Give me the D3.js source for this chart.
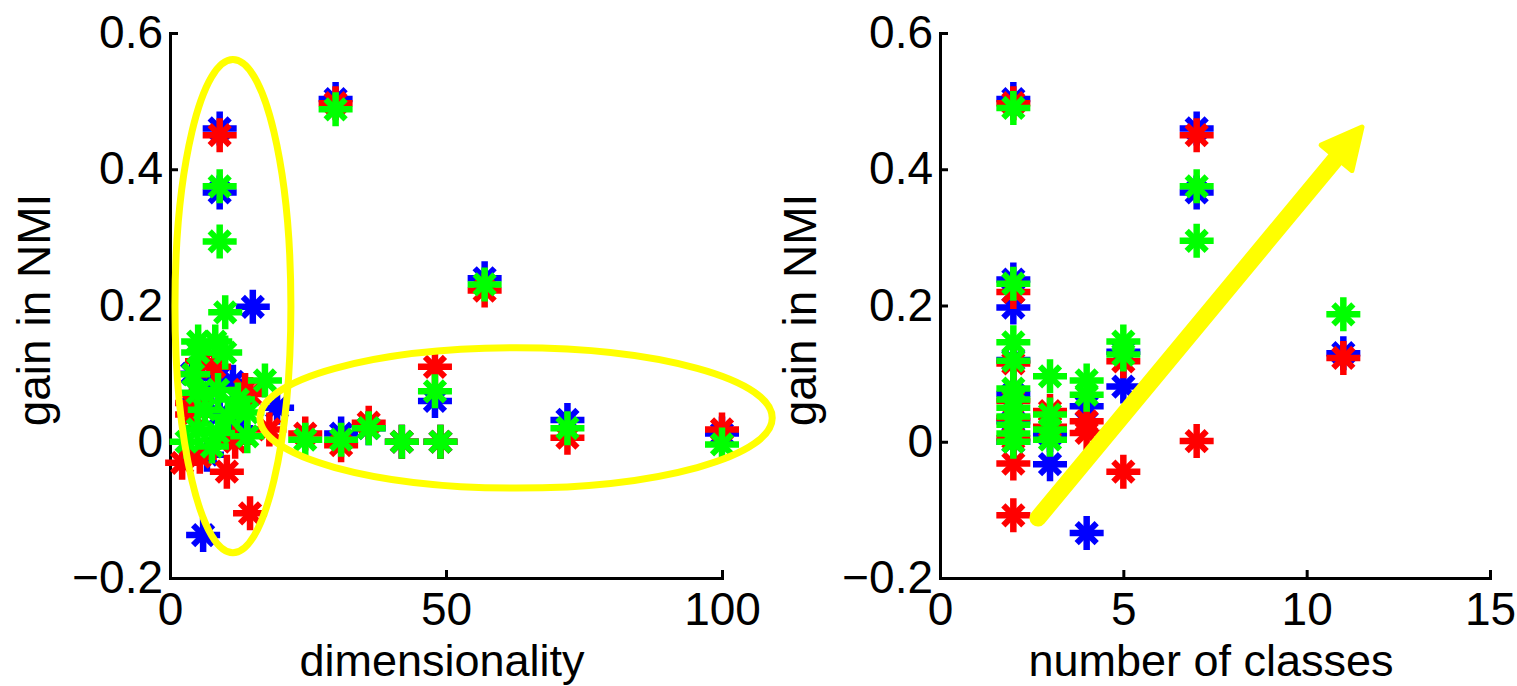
<!DOCTYPE html>
<html>
<head>
<meta charset="utf-8">
<script src="https://cdn.jsdelivr.net/npm/d3@7"></script>
<style>
  body { margin: 0; background: #fff; }
</style>
</head>
<body>
<div id="chart"></div>
<script>
// values (gain in NMI per dataset, three colours)
const yTicks = [-0.2, 0, 0.2, 0.4, 0.6];
const dimTicks = [0, 50, 100];
const classTicks = [0, 5, 10, 15];

// left panel: [dimensionality, gain]
const dimBlue = [
  [30, 0.503], [9, 0.460], [9, 0.366], [57, 0.240], [15, 0.198],
  [48, 0.060], [19.4, 0.050], [11.4, 0.088], [8.7, 0.094], [72, 0.032],
  [31, 0.012], [36, 0.020], [42, 0.0], [49, 0.0], [100, 0.012],
  [6, -0.137], [6.7, -0.019], [5, 0.060], [9, 0.040], [12, 0.020], [4, 0.100]
];
const dimRed = [
  [30, 0.497], [9, 0.450], [57, 0.222], [48, 0.110], [72, 0.006],
  [100, 0.018], [36, 0.028], [24.5, 0.012], [31, -0.005], [42, 0.0], [49, 0.0],
  [14.5, -0.105], [10.3, -0.044], [2.2, -0.031], [5.4, -0.022], [11.8, 0.0],
  [4, 0.040], [4, 0.057], [13.6, 0.076], [14.5, 0.070], [5.8, 0.118], [18, 0.018], [8, 0.110]
];
const dimGreen = [
  [30, 0.488], [9, 0.375], [9, 0.294], [57, 0.231], [10, 0.190],
  [48, 0.074], [72, 0.020], [100, -0.004], [24.5, 0.003], [31, 0.003],
  [36, 0.020], [42, 0.0], [49, 0.0], [17.2, 0.090],
  [5.1, 0.147], [8.2, 0.147], [10, 0.131], [5.1, 0.131], [4.2, 0.099],
  [5, 0.072], [8.7, 0.076], [12.3, 0.062], [6.3, 0.047], [10.5, 0.037],
  [14, 0.043], [5, 0.018], [8.7, 0.013], [14, 0.008], [7.6, -0.007], [3, 0.0]
];

// right panel: [number of classes, gain]
const classBlue = [
  [2, 0.503], [2, 0.238], [2, 0.197], [2, 0.120], [2, 0.070], [2, 0.030], [2, 0.0],
  [3, -0.033], [3, 0.010], [4, 0.052], [4, -0.134], [5, 0.132], [5, 0.081],
  [7, 0.460], [7, 0.366], [11, 0.130]
];
const classRed = [
  [2, 0.497], [2, 0.220], [2, 0.115], [2, 0.060], [2, 0.035], [2, 0.005],
  [2, -0.032], [2, -0.108], [3, 0.045], [3, 0.022], [4, 0.030], [4, 0.013],
  [5, 0.118], [5, -0.044], [7, 0.450], [7, 0.001], [11, 0.123]
];
const classGreen = [
  [2, 0.490], [2, 0.232], [2, 0.146], [2, 0.119], [2, 0.078], [2, 0.062],
  [2, 0.050], [2, 0.037], [2, 0.025], [2, 0.012], [2, 0.0],
  [3, 0.096], [3, 0.040], [3, 0.018], [3, 0.003], [4, 0.090], [4, 0.069],
  [5, 0.147], [5, 0.128], [7, 0.375], [7, 0.295], [11, 0.187]
];

// yellow annotations, in data units
const lowDimEllipse = { cx: 11.4, cy: 0.199, rx: 10.5, ry: 0.362 };
const highDimEllipse = { cx: 62.7, cy: 0.035, rx: 46.4, ry: 0.103 };
const trendArrow = [[2.67, -0.112], [11.51, 0.462]];

const width = 1517, height = 686;
const font = '"Liberation Sans", Arial, sans-serif';

const svg = d3.select('#chart').append('svg')
  .attr('width', width).attr('height', height)
  .style('display', 'block')
  .style('background', '#fff');

const y = d3.scaleLinear().domain([-0.2, 0.6]).range([578, 33]);
const xDim = d3.scaleLinear().domain([0, 100]).range([170, 722]);
const xCls = d3.scaleLinear().domain([0, 15]).range([940, 1490]);

// matlab style '*' marker: thick plus, shorter chunky diagonals
function plusArms(r) {
  return `M${-r},0H${r}M0,${-r}V${r}`;
}
function diagArms(d) {
  return `M${-d},${-d}L${d},${d}M${-d},${d}L${d},${-d}`;
}

function drawPoints(g, x, data, colour) {
  const pts = g.append('g').selectAll('g')
    .data(data)
    .join('g')
    .attr('transform', d => `translate(${x(d[0])},${y(d[1])})`)
    .attr('fill', 'none')
    .attr('stroke', colour);
  pts.append('path').attr('d', plusArms(17)).attr('stroke-width', 6.5);
  pts.append('path').attr('d', diagArms(10)).attr('stroke-width', 6);
}

function drawPanel(x, xTicks, blue, red, green, xLabel, yLabelX) {
  const g = svg.append('g');

  const yAxis = g.append('g')
    .attr('transform', `translate(${x.range()[0]},0)`)
    .call(d3.axisLeft(y).tickValues(yTicks).tickSizeInner(-8).tickSizeOuter(0)
      .tickPadding(7).tickFormat(d3.format('')));

  const xAxis = g.append('g')
    .attr('transform', `translate(0,${y.range()[0]})`)
    .call(d3.axisBottom(x).tickValues(xTicks).tickSizeInner(-8).tickSizeOuter(0)
      .tickPadding(14).tickFormat(d3.format('')));

  [yAxis, xAxis].forEach(a => {
    a.attr('font-size', 46).attr('font-family', font);
    a.select('.domain').attr('stroke', '#000').attr('stroke-width', 3).attr('stroke-linecap', 'square');
    a.selectAll('.tick line').attr('stroke', '#000').attr('stroke-width', 3);
    a.selectAll('.tick text').attr('fill', '#000');
  });

  drawPoints(g, x, blue, '#0000ff');
  drawPoints(g, x, red, '#ff0000');
  drawPoints(g, x, green, '#00ff00');

  const mid = (x.range()[0] + x.range()[1]) / 2 - 4;
  g.append('text')
    .attr('x', mid).attr('y', 676)
    .attr('text-anchor', 'middle')
    .attr('font-family', font).attr('font-size', 45)
    .text(xLabel);

  g.append('text')
    .attr('transform', `translate(${yLabelX},310) rotate(-90)`)
    .attr('text-anchor', 'middle')
    .attr('font-family', font).attr('font-size', 46)
    .text('gain in NMI');

  return g;
}

const left = drawPanel(xDim, dimTicks, dimBlue, dimRed, dimGreen, 'dimensionality', 50);
const right = drawPanel(xCls, classTicks, classBlue, classRed, classGreen, 'number of classes', 816);

// ellipses on the left panel
[lowDimEllipse, highDimEllipse].forEach(e => {
  left.append('ellipse')
    .attr('cx', xDim(e.cx))
    .attr('cy', y(e.cy))
    .attr('rx', xDim(e.cx + e.rx) - xDim(e.cx))
    .attr('ry', y(e.cy - e.ry) - y(e.cy))
    .attr('fill', 'none')
    .attr('stroke', '#ffff00')
    .attr('stroke-width', 7);
});

// arrow on the right panel
const p0 = [xCls(trendArrow[0][0]), y(trendArrow[0][1])];
const p1 = [xCls(trendArrow[1][0]), y(trendArrow[1][1])];
const len = Math.hypot(p1[0] - p0[0], p1[1] - p0[1]);
const u = [(p1[0] - p0[0]) / len, (p1[1] - p0[1]) / len];
const n = [-u[1], u[0]];
const headLen = 40, headHalf = 20;
const base = [p1[0] - u[0] * headLen, p1[1] - u[1] * headLen];

right.append('line')
  .attr('x1', p0[0]).attr('y1', p0[1])
  .attr('x2', base[0] + u[0] * 5).attr('y2', base[1] + u[1] * 5)
  .attr('stroke', '#ffff00')
  .attr('stroke-width', 17)
  .attr('stroke-linecap', 'round');

right.append('path')
  .attr('d', d3.line()([
    p1,
    [base[0] + n[0] * headHalf, base[1] + n[1] * headHalf],
    [base[0] - n[0] * headHalf, base[1] - n[1] * headHalf]
  ]) + 'Z')
  .attr('fill', '#ffff00')
  .attr('stroke', '#ffff00')
  .attr('stroke-width', 5)
  .attr('stroke-linejoin', 'round');
</script>
</body>
</html>
